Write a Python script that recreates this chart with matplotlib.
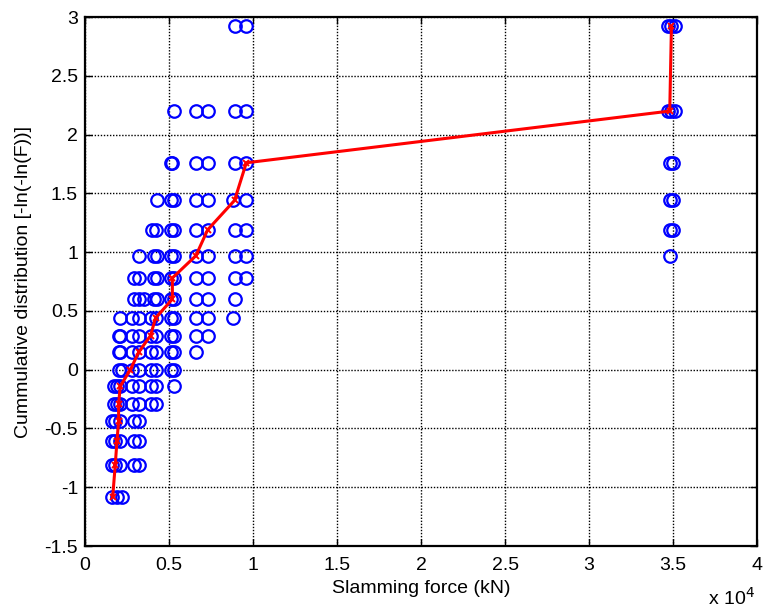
import matplotlib.pyplot as plt

# Reduced variate levels, -ln(-ln(F))
y_levels = [-1.08, -0.81, -0.61, -0.44, -0.29, -0.14, 0.00, 0.15, 0.29,
            0.44, 0.60, 0.78, 0.97, 1.19, 1.44, 1.76, 2.20, 2.92]

# Slamming force samples at each level (x 10^4 kN)
force_at_level = [
    [0.16, 0.19, 0.22],
    [0.16, 0.18, 0.21, 0.29, 0.32],
    [0.16, 0.18, 0.21, 0.29, 0.32],
    [0.16, 0.18, 0.21, 0.29, 0.32],
    [0.17, 0.19, 0.21, 0.28, 0.32, 0.39, 0.42],
    [0.17, 0.19, 0.21, 0.28, 0.32, 0.39, 0.42, 0.53],
    [0.20, 0.22, 0.28, 0.32, 0.39, 0.42, 0.51, 0.53],
    [0.20, 0.21, 0.28, 0.32, 0.39, 0.42, 0.51, 0.53, 0.66],
    [0.20, 0.21, 0.28, 0.32, 0.39, 0.42, 0.51, 0.53, 0.66, 0.73],
    [0.21, 0.28, 0.32, 0.39, 0.42, 0.51, 0.53, 0.66, 0.73, 0.88],
    [0.29, 0.32, 0.35, 0.41, 0.43, 0.51, 0.53, 0.66, 0.73, 0.89],
    [0.29, 0.32, 0.41, 0.43, 0.51, 0.53, 0.66, 0.73, 0.89, 0.96],
    [0.32, 0.41, 0.43, 0.51, 0.53, 0.66, 0.73, 0.89, 0.96, 3.48],
    [0.40, 0.42, 0.51, 0.53, 0.66, 0.73, 0.89, 0.96, 3.48, 3.50],
    [0.43, 0.51, 0.53, 0.66, 0.73, 0.88, 0.96, 3.48, 3.50],
    [0.51, 0.52, 0.66, 0.73, 0.89, 0.96, 3.48, 3.50],
    [0.53, 0.66, 0.73, 0.89, 0.96, 3.47, 3.49, 3.51],
    [0.89, 0.96, 3.47, 3.49, 3.51],
]

# Fitted / median curve (x 10^4 kN)
median_force = [0.165, 0.18, 0.19, 0.20, 0.20, 0.21, 0.27, 0.32, 0.39,
                0.42, 0.52, 0.52, 0.66, 0.73, 0.89, 0.96, 3.48, 3.49]

plt.rcParams['font.family'] = ['Liberation Sans', 'DejaVu Sans']
fig = plt.figure(figsize=(7.63, 6.14), dpi=100)
ax = fig.add_axes([0.1114, 0.1107, 0.8809, 0.8616])

for y, xs in zip(y_levels, force_at_level):
    ax.plot(xs, [y] * len(xs), 'o', mfc='none', mec='#0000ff',
            ms=9, mew=1.6, zorder=3)

ax.plot(median_force, y_levels, '-x', color='#ff0000', lw=2.2, ms=5,
        mew=1.4, zorder=4)

ax.set_xlim(0, 4)
ax.set_ylim(-1.5, 3)
ax.set_xticks([0, 0.5, 1, 1.5, 2, 2.5, 3, 3.5, 4])
ax.set_xticklabels(['0', '0.5', '1', '1.5', '2', '2.5', '3', '3.5', '4'])
ax.set_yticks([-1.5, -1, -0.5, 0, 0.5, 1, 1.5, 2, 2.5, 3])
ax.set_yticklabels(['-1.5', '-1', '-0.5', '0', '0.5', '1', '1.5', '2', '2.5', '3'])
ax.grid(True, color='black', linestyle=(0, (1, 1.2)), linewidth=1.0)
ax.tick_params(direction='in', top=True, right=True, labelsize=14,
               length=5, width=1)
ax.tick_params(axis='x', pad=8)
ax.tick_params(axis='y', pad=5)
for sp in ax.spines.values():
    sp.set_linewidth(1.6)

ax.set_xlabel('Slamming force (kN)', fontsize=14, labelpad=4)
ax.set_ylabel('Cummulative distribution [-ln(-ln(F))]', fontsize=14, labelpad=9)
fig.text(0.99, 0.008, r'x 10$^4$', ha='right', va='bottom', fontsize=14)

fig.savefig('out.png', dpi=100)
